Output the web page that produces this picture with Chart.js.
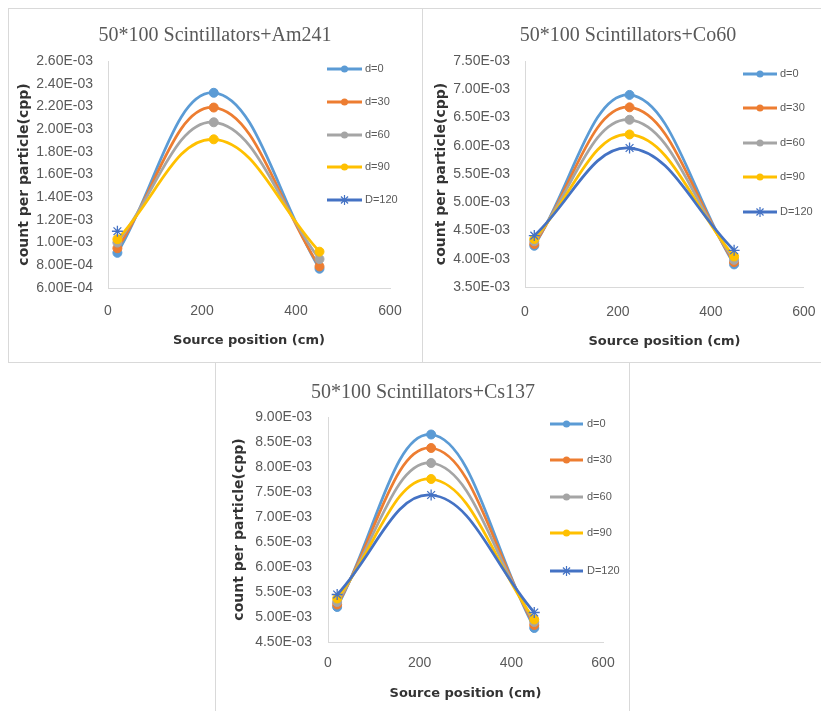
<!DOCTYPE html>
<html><head><meta charset="utf-8">
<script src="https://cdn.jsdelivr.net/npm/chart.js@4.4.1/dist/chart.umd.min.js"></script>
<style>
html,body{margin:0;padding:0;background:#fff;overflow:hidden;width:821px;height:711px;position:relative;}
.box{position:absolute;border:1px solid #d9d9d9;box-sizing:border-box;}
canvas{position:absolute;}
</style></head><body>
<div class="box" style="left:8px;top:8px;width:415px;height:355px"></div>
<div class="box" style="left:422px;top:8px;width:410px;height:355px"></div>
<div class="box" style="left:215px;top:362px;width:415px;height:360px"></div>
<canvas id="c1" width="415" height="355" style="left:8px;top:8px"></canvas>
<canvas id="c2" width="410" height="355" style="left:422px;top:8px"></canvas>
<canvas id="c3" width="414" height="350" style="left:215px;top:362px"></canvas>
<script>
// ---------- data ----------
const sourcePositions = [20, 225, 450];
const seriesNames = ['d=0', 'd=30', 'd=60', 'd=90', 'D=120'];
const xTicks = [0, 600, 200]; // min, max, step

const am241_d0   = [9.10e-4, 2.32e-3, 7.70e-4];
const am241_d30  = [9.50e-4, 2.19e-3, 7.90e-4];
const am241_d60  = [1.00e-3, 2.06e-3, 8.55e-4];
const am241_d90  = [1.03e-3, 1.91e-3, 9.20e-4];
const am241_D120 = [1.10e-3, null, null];
const am241YTicks = [6.0e-4, 2.6e-3, 2.0e-4];

const co60_d0   = [4.23e-3, 6.90e-3, 3.90e-3];
const co60_d30  = [4.26e-3, 6.68e-3, 3.94e-3];
const co60_d60  = [4.31e-3, 6.46e-3, 3.98e-3];
const co60_d90  = [4.35e-3, 6.20e-3, 4.04e-3];
const co60_D120 = [4.41e-3, 5.96e-3, 4.15e-3];
const co60YTicks = [3.5e-3, 7.5e-3, 5.0e-4];

const cs137_d0   = [5.20e-3, 8.65e-3, 4.78e-3];
const cs137_d30  = [5.25e-3, 8.38e-3, 4.84e-3];
const cs137_d60  = [5.30e-3, 8.08e-3, 4.90e-3];
const cs137_d90  = [5.37e-3, 7.76e-3, 4.95e-3];
const cs137_D120 = [5.45e-3, 7.44e-3, 5.09e-3];
const cs137YTicks = [4.5e-3, 9.0e-3, 5.0e-4];

// ---------- style ----------
const colors = ['#5B9BD5', '#ED7D31', '#A5A5A5', '#FFC000', '#4472C4'];
const markers = ['circle', 'circle', 'circle', 'circle', 'star'];

function sci(v) {
  const s = Number(v).toExponential(2);
  const parts = s.split('e');
  const n = parseInt(parts[1], 10);
  return parts[0] + 'E' + (n < 0 ? '-' : '+') + String(Math.abs(n)).padStart(2, '0');
}

function drawMarker(ctx, style, color, x, y, r) {
  ctx.save();
  ctx.strokeStyle = color; ctx.fillStyle = color;
  if (style === 'star') {
    ctx.lineWidth = 1.2;
    ctx.beginPath();
    for (let k = 0; k < 4; k++) {
      const a = k * Math.PI / 4;
      ctx.moveTo(x - Math.cos(a) * r, y - Math.sin(a) * r);
      ctx.lineTo(x + Math.cos(a) * r, y + Math.sin(a) * r);
    }
    ctx.stroke();
  } else {
    ctx.beginPath(); ctx.arc(x, y, r, 0, Math.PI * 2); ctx.fill();
  }
  ctx.restore();
}

const excelLegend = {
  id: 'excelLegend',
  afterDraw(chart, args, opts) {
    const ctx = chart.ctx;
    ctx.save();
    chart.data.datasets.forEach((ds, i) => {
      const y = opts.ys[i];
      ctx.strokeStyle = ds.borderColor;
      ctx.lineWidth = 3;
      ctx.beginPath(); ctx.moveTo(opts.x1, y); ctx.lineTo(opts.x2, y); ctx.stroke();
      drawMarker(ctx, ds.pointStyle, ds.borderColor, (opts.x1 + opts.x2) / 2, y, ds.pointStyle === 'star' ? 5 : 3.5);
      ctx.fillStyle = '#595959';
      ctx.font = '11px "Liberation Sans", Arial, sans-serif';
      ctx.textBaseline = 'middle';
      ctx.textAlign = 'left';
      ctx.fillText(ds.label, opts.tx, y);
    });
    ctx.restore();
  }
};

const excelTitle = {
  id: 'excelTitle',
  afterDraw(chart, args, opts) {
    const ctx = chart.ctx;
    ctx.save();
    ctx.fillStyle = '#595959';
    ctx.font = '20px "Liberation Serif", "Times New Roman", serif';
    ctx.textAlign = 'center';
    ctx.textBaseline = 'middle';
    ctx.fillText(opts.text, opts.x, opts.y);
    ctx.restore();
  }
};

function makeChart(id, title, series, yTicks, geo) {
  const datasets = series.map((vals, i) => ({
    label: seriesNames[i],
    data: sourcePositions.map((x, j) => ({ x: x, y: vals[j] })),
    borderColor: colors[i],
    backgroundColor: colors[i],
    borderWidth: 2.75,
    pointStyle: markers[i],
    pointRadius: markers[i] === 'star' ? 5.5 : 4.5,
    pointBorderWidth: markers[i] === 'star' ? 1.3 : 1,
    pointBackgroundColor: colors[i],
    pointBorderColor: colors[i],
    tension: 0.4,
    fill: false,
    order: 5 - i
  }));
  return new Chart(document.getElementById(id), {
    type: 'line',
    data: { datasets: datasets },
    plugins: [excelLegend, excelTitle],
    options: {
      responsive: false,
      animation: false,
      devicePixelRatio: 1,
      layout: { padding: { left: 0, top: geo.padTop, right: geo.padRight, bottom: 0 } },
      plugins: {
        legend: { display: false },
        tooltip: { enabled: false },
        title: { display: false },
        excelTitle: { text: title, x: geo.titleX, y: geo.titleY },
        excelLegend: geo.legend
      },
      scales: {
        x: {
          type: 'linear', min: xTicks[0], max: xTicks[1],
          afterFit: (s) => { s.height = geo.xHeight; },
          grid: { display: false, drawTicks: false },
          border: { display: true, color: '#d9d9d9', width: 1 },
          ticks: { stepSize: xTicks[2], padding: geo.xTickPad, color: '#595959',
                   font: { family: '"Liberation Sans", Arial, sans-serif', size: 14 } },
          title: { display: true, text: 'Source position (cm)', color: '#333',
                   font: { family: '"DejaVu Sans", sans-serif', size: 13, weight: 'bold', lineHeight: 1.2 },
                   padding: { top: 0, bottom: geo.xTitlePad } }
        },
        y: {
          type: 'linear', min: yTicks[0], max: yTicks[1],
          afterFit: (s) => { s.width = geo.yWidth; },
          grid: { display: false, drawTicks: false },
          border: { display: true, color: '#d9d9d9', width: 1 },
          ticks: { stepSize: yTicks[2], padding: geo.yTickPad, color: '#595959',
                   callback: (v) => sci(v),
                   font: { family: '"Liberation Sans", Arial, sans-serif', size: 14 } },
          title: { display: true, text: 'count per particle(cpp)', color: '#333',
                   font: { family: '"DejaVu Sans", sans-serif', size: 14, weight: 'bold', lineHeight: 1.2 },
                   padding: { top: geo.yTitlePad, bottom: 0 } }
        }
      }
    }
  });
}

makeChart('c1', '50*100 Scintillators+Am241',
  [am241_d0, am241_d30, am241_d60, am241_d90, am241_D120], am241YTicks,
  { padTop: 53, padRight: 33, yWidth: 100, xHeight: 75, titleX: 207, titleY: 28,
    xTickPad: 15, yTickPad: 15, xTitlePad: 15, yTitlePad: 7.6,
    legend: { x1: 319, x2: 354, tx: 357, ys: [61, 94, 127, 159, 192] } });

makeChart('c2', '50*100 Scintillators+Co60',
  [co60_d0, co60_d30, co60_d60, co60_d90, co60_D120], co60YTicks,
  { padTop: 53, padRight: 22, yWidth: 103, xHeight: 76, titleX: 206, titleY: 28,
    xTickPad: 16.5, yTickPad: 15, xTitlePad: 14, yTitlePad: 10.6,
    legend: { x1: 321, x2: 355, tx: 358, ys: [66, 100, 135, 169, 204] } });

makeChart('c3', '50*100 Scintillators+Cs137',
  [cs137_d0, cs137_d30, cs137_d60, cs137_d90, cs137_D120], cs137YTicks,
  { padTop: 55, padRight: 26, yWidth: 113, xHeight: 70, titleX: 208, titleY: 31,
    xTickPad: 12.6, yTickPad: 16, xTitlePad: 11, yTitlePad: 15.6,
    legend: { x1: 335, x2: 368, tx: 372, ys: [62, 98, 135, 171, 209] } });
</script>
</body></html>
